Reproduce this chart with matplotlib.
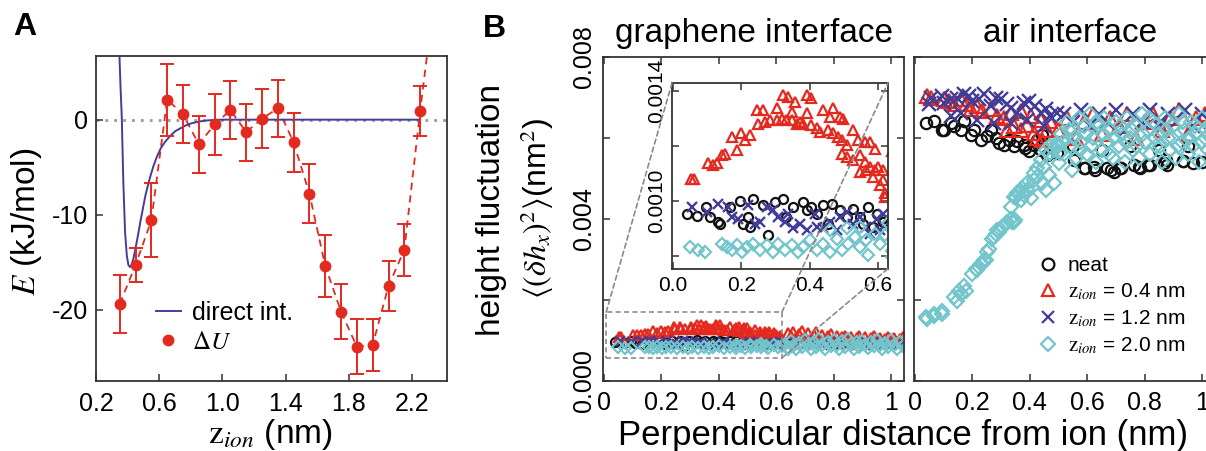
import numpy as np
import matplotlib
matplotlib.use('Agg')
import matplotlib.pyplot as plt
from matplotlib.patches import Rectangle, ConnectionPatch
from matplotlib.lines import Line2D
from matplotlib.ticker import FixedLocator

plt.rcParams['font.family'] = ['Liberation Sans', 'DejaVu Sans']
plt.rcParams['mathtext.fontset'] = 'stix'

RED = '#E4291F'
BLUE = '#433D98'
CYAN = '#73C5CB'
BLACK = '#111111'
SPINE = '#333333'
GRAY = '#8a8a8a'

# ---------------- Panel A data ----------------
du_x = [0.35, 0.45, 0.55, 0.65, 0.75, 0.85, 0.95, 1.05, 1.15, 1.25,
        1.35, 1.45, 1.55, 1.65, 1.75, 1.85, 1.95, 2.05, 2.15, 2.25]
du_y = [-19.4, -15.3, -10.6, 2.1, 0.6, -2.6, -0.5, 1.0, -1.3, 0.1,
        1.2, -2.4, -7.8, -15.4, -20.2, -23.9, -23.7, -17.5, -13.7, 0.9]
du_err = [3.1, 1.75, 3.9, 3.8, 3.05, 3.0, 3.2, 3.05, 3.0, 3.1,
          3.0, 3.07, 3.1, 3.25, 2.9, 2.9, 2.75, 2.6, 2.7, 2.6]
trend_x = du_x + [2.30]
trend_y = du_y + [7.6]

direct_x = [0.348, 0.355, 0.363, 0.373, 0.384, 0.395, 0.405, 0.415, 0.425, 0.437,
            0.448, 0.463, 0.479, 0.495, 0.511, 0.527, 0.543, 0.563, 0.585, 0.61,
            0.638, 0.67, 0.702, 0.735, 0.765, 0.80, 0.83, 0.87, 0.91, 0.96,
            1.0, 1.2, 1.6, 2.0, 2.25]
direct_y = [6.9, 3.5, 0.3, -6.7, -11.9, -14.3, -15.3, -15.5, -15.3, -14.6,
            -13.7, -12.4, -10.9, -9.5, -8.1, -7.0, -6.0, -4.9, -3.9, -3.0,
            -2.3, -1.7, -1.2, -0.9, -0.63, -0.4, -0.28, -0.15, -0.07, -0.02,
            0.0, 0.0, 0.0, 0.0, 0.0]

# ---------------- Panel B data: graphene interface ----------------
gr_neat = [(0.040,0.000952),(0.069,0.000945),(0.096,0.000978),(0.108,0.000942),(0.133,0.000924),
           (0.137,0.000918),(0.167,0.000978),(0.196,0.0010),(0.205,0.000918),(0.225,0.000905),
           (0.220,0.000942),(0.234,0.001008),(0.264,0.000984),(0.279,0.000875),(0.298,0.000997),
           (0.323,0.001008),(0.332,0.000942),(0.352,0.000978),(0.381,0.000996),(0.391,0.000966),
           (0.405,0.000978),(0.420,0.000954),(0.440,0.000984),(0.464,0.00099),(0.454,0.000918),
           (0.488,0.000966),(0.508,0.000942),(0.527,0.000972),(0.547,0.000942),(0.571,0.000978),
           (0.596,0.000954),(0.610,0.000936),(0.557,0.000918),(0.586,0.000905),(0.615,0.000924),
           (0.65,0.00095),(0.68,0.00092),(0.71,0.00097),(0.74,0.00093),(0.77,0.00096),
           (0.80,0.00091),(0.83,0.00095),(0.86,0.00092),(0.89,0.00096),(0.92,0.00093),
           (0.95,0.00095),(0.98,0.00091),(1.01,0.00094),(1.04,0.00092)]
gr_z04 = [(0.052,0.001081),(0.060,0.001081),(0.103,0.001136),(0.116,0.00113),(0.128,0.001136),
          (0.142,0.001166),(0.152,0.001172),(0.172,0.001233),(0.186,0.001184),(0.199,0.001245),
          (0.212,0.00122),(0.225,0.00124),(0.245,0.00133),(0.264,0.00133),(0.249,0.001281),
          (0.269,0.001287),(0.284,0.001293),(0.303,0.001293),(0.303,0.001336),(0.323,0.001384),
          (0.337,0.001378),(0.357,0.00136),(0.347,0.001324),(0.318,0.001299),(0.332,0.001293),
          (0.347,0.001293),(0.362,0.001281),(0.371,0.001287),(0.381,0.001281),(0.391,0.001384),
          (0.405,0.001372),(0.391,0.001318),(0.405,0.001275),(0.420,0.001263),(0.430,0.001251),
          (0.440,0.00133),(0.459,0.001305),(0.469,0.001336),(0.488,0.001305),(0.498,0.001299),
          (0.454,0.001257),(0.469,0.001245),(0.483,0.001233),(0.493,0.00122),(0.508,0.001202),
          (0.527,0.001257),(0.542,0.00122),(0.561,0.001214),(0.576,0.001214),(0.591,0.00119),
          (0.493,0.001172),(0.508,0.00116),(0.527,0.001148),(0.547,0.001166),(0.561,0.001142),
          (0.576,0.001124),(0.591,0.001112),(0.600,0.001124),(0.615,0.001075),(0.620,0.001027),
          (0.547,0.001105),(0.566,0.001112),(0.586,0.001087),(0.605,0.001057),(0.615,0.001112),
          (0.620,0.001014),
          (0.64,0.00118),(0.65,0.00110),(0.66,0.00122),(0.67,0.00105),(0.68,0.00115),
          (0.69,0.00124),(0.70,0.00108),(0.71,0.00118),(0.72,0.00102),(0.73,0.00114),
          (0.74,0.00120),(0.75,0.00106),(0.76,0.00113),(0.77,0.00100),(0.78,0.00110),
          (0.79,0.00115),(0.80,0.00104),(0.81,0.00111),(0.82,0.00098),(0.83,0.00108),
          (0.84,0.00112),(0.85,0.00102),(0.86,0.00109),(0.87,0.00097),(0.88,0.00106),
          (0.89,0.00111),(0.90,0.00101),(0.91,0.00108),(0.92,0.00096),(0.93,0.00105),
          (0.94,0.00110),(0.95,0.00100),(0.96,0.00107),(0.97,0.00097),(0.98,0.00104),
          (0.99,0.00109),(1.00,0.00099),(1.01,0.00106),(1.02,0.00096),(1.03,0.00104),
          (1.04,0.00108)]
gr_z12 = [(0.055,0.000978),(0.099,0.00096),(0.133,0.00099),(0.162,0.000978),(0.172,0.000942),
          (0.191,0.000936),(0.220,0.000984),(0.240,0.000918),(0.254,0.000924),(0.274,0.000978),
          (0.293,0.000966),(0.308,0.000942),(0.327,0.000924),(0.337,0.000954),(0.352,0.0009),
          (0.371,0.000918),(0.391,0.000893),(0.415,0.000954),(0.420,0.000905),(0.440,0.0009),
          (0.459,0.000924),(0.479,0.000893),(0.488,0.000942),(0.508,0.00096),(0.527,0.000918),
          (0.547,0.000942),(0.566,0.000905),(0.596,0.000936),(0.615,0.000954),(0.576,0.000881),
          (0.605,0.000893),
          (0.64,0.00093),(0.67,0.00090),(0.70,0.00095),(0.73,0.00091),(0.76,0.00094),
          (0.79,0.00090),(0.82,0.00093),(0.85,0.00089),(0.88,0.00094),(0.91,0.00090),
          (0.94,0.00093),(0.97,0.00089),(1.00,0.00092),(1.03,0.00090)]
gr_z20 = [(0.050,0.000833),(0.074,0.000821),(0.094,0.000815),(0.142,0.000845),(0.157,0.000833),
          (0.172,0.000821),(0.186,0.00084),(0.201,0.000815),(0.215,0.000833),(0.235,0.000845),
          (0.254,0.000821),(0.274,0.00084),(0.293,0.000815),(0.308,0.000845),(0.327,0.000821),
          (0.347,0.00084),(0.366,0.000815),(0.381,0.000833),(0.401,0.000857),(0.420,0.000821),
          (0.440,0.000845),(0.459,0.000815),(0.479,0.000863),(0.493,0.000821),(0.513,0.000845),
          (0.532,0.00087),(0.547,0.000833),(0.566,0.000857),(0.591,0.000881),(0.605,0.000845),
          (0.620,0.000875),(0.459,0.000893),(0.508,0.0009),(0.547,0.000905),(0.570,0.000803),
          (0.640,0.000797),
          (0.63,0.00092),(0.64,0.00082),(0.65,0.00100),(0.66,0.00087),(0.67,0.00079),
          (0.68,0.00095),(0.69,0.00084),(0.70,0.00102),(0.71,0.00089),(0.72,0.00080),
          (0.73,0.00097),(0.74,0.00085),(0.75,0.00103),(0.76,0.00090),(0.77,0.00079),
          (0.78,0.00096),(0.79,0.00086),(0.80,0.00101),(0.81,0.00088),(0.82,0.00080),
          (0.83,0.00098),(0.84,0.00085),(0.85,0.00103),(0.86,0.00091),(0.87,0.00079),
          (0.88,0.00096),(0.89,0.00084),(0.90,0.00100),(0.91,0.00088),(0.92,0.00081),
          (0.93,0.00097),(0.94,0.00086),(0.95,0.00102),(0.96,0.00090),(0.97,0.00080),
          (0.98,0.00095),(0.99,0.00085),(1.00,0.00101),(1.01,0.00089),(1.02,0.00079),
          (1.03,0.00096),(1.04,0.00087)]

# ---------------- Panel B data: air interface ----------------
air_neat = [(0.038,0.006373),(0.067,0.006414),(0.096,0.006207),(0.102,0.006207),(0.125,0.006373),
            (0.137,0.00629),(0.160,0.006207),(0.171,0.006414),(0.194,0.006083),(0.206,0.006207),
            (0.229,0.005959),(0.252,0.006041),(0.264,0.006207),(0.281,0.006),(0.293,0.005876),
            (0.310,0.005834),(0.328,0.005959),(0.345,0.005793),(0.356,0.005917),(0.380,0.005834),
            (0.397,0.005669),(0.385,0.005752),(0.414,0.005834),(0.426,0.005959),(0.443,0.006083),
            (0.438,0.00571),(0.461,0.005586),(0.495,0.005627),(0.553,0.005462),(0.588,0.005255),
            (0.623,0.005296),(0.669,0.005255),(0.692,0.005172),(0.715,0.005255),(0.762,0.005337),
            (0.785,0.005255),(0.819,0.005337),(0.866,0.005379),(0.877,0.005337),(0.935,0.00542),
            (0.970,0.005379),(0.591,0.005255),(0.626,0.005213),(0.684,0.005213),(0.719,0.005255),
            (0.782,0.005296),(0.812,0.005337),(0.875,0.005462),(0.933,0.00542),(1.00,0.00540),
            (1.03,0.00545),(0.55,0.0058),(0.65,0.0057),(0.75,0.0058),(0.85,0.0057),(0.95,0.0058)]
air_z04 = [(0.044,0.007035),(0.056,0.006994),(0.102,0.006952),(0.119,0.006911),(0.137,0.006828),
           (0.160,0.006952),(0.177,0.006828),(0.194,0.006704),(0.218,0.006787),(0.235,0.006663),
           (0.264,0.006704),(0.287,0.006538),(0.310,0.006497),(0.322,0.006207),(0.345,0.00629),
           (0.368,0.006207),(0.391,0.006331),(0.414,0.006124),(0.426,0.006),(0.443,0.005959),
           (0.461,0.006207),(0.333,0.006621),(0.368,0.006663),(0.403,0.006538),(0.438,0.006455),
           (0.472,0.006414),
           (0.50,0.0062),(0.53,0.0065),(0.56,0.0060),(0.59,0.0064),(0.62,0.0066),(0.65,0.0061),
           (0.68,0.0065),(0.71,0.0063),(0.74,0.0066),(0.77,0.0060),(0.80,0.0064),(0.83,0.0066),
           (0.86,0.0062),(0.89,0.0065),(0.92,0.0067),(0.95,0.0061),(0.98,0.0065),(1.01,0.0066),
           (1.04,0.0063)]
air_z12 = [(0.050,0.006828),(0.056,0.006994),(0.096,0.007035),(0.102,0.00687),(0.125,0.006952),
           (0.148,0.006994),(0.171,0.007077),(0.189,0.007035),(0.200,0.006911),(0.223,0.006952),
           (0.241,0.007077),(0.264,0.006787),(0.281,0.006994),(0.299,0.006952),(0.322,0.006828),
           (0.333,0.006745),(0.356,0.006621),(0.380,0.00687),(0.397,0.006911),(0.420,0.006787),
           (0.438,0.006621),(0.455,0.006704),(0.472,0.006538),(0.495,0.006621),(0.125,0.006538),
           (0.160,0.006621),(0.218,0.006455),(0.275,0.006373),(0.333,0.006373),(0.391,0.006455),
           (0.449,0.00629),
           (0.52,0.0066),(0.55,0.0064),(0.58,0.0067),(0.61,0.0063),(0.64,0.0066),(0.67,0.0064),
           (0.70,0.0067),(0.73,0.0062),(0.76,0.0066),(0.79,0.0064),(0.82,0.0067),(0.85,0.0063),
           (0.88,0.0066),(0.91,0.0064),(0.94,0.0067),(0.97,0.0063),(1.00,0.0066),(1.03,0.0064)]
air_z20 = [(0.038,0.001569),(0.044,0.001528),(0.067,0.00161),(0.067,0.001652),(0.096,0.001652),
           (0.096,0.001735),(0.137,0.002066),(0.148,0.001983),(0.154,0.002232),(0.160,0.002149),
           (0.171,0.002356),(0.177,0.002232),(0.200,0.002646),(0.212,0.00277),(0.218,0.002729),
           (0.229,0.002894),(0.235,0.002894),(0.241,0.002977),(0.247,0.002977),(0.252,0.003184),
           (0.258,0.003267),(0.270,0.003516),(0.275,0.003557),(0.281,0.00364),(0.287,0.003723),
           (0.293,0.003681),(0.304,0.003805),(0.316,0.003888),(0.322,0.00393),(0.333,0.004012),
           (0.339,0.00393),(0.345,0.00393),(0.350,0.00397),(0.333,0.004302),(0.345,0.004551),
           (0.351,0.004551),(0.356,0.004633),(0.362,0.004675),(0.368,0.004468),(0.374,0.004758),
           (0.380,0.004592),(0.391,0.004716),(0.391,0.004882),(0.403,0.004509),(0.409,0.004799),
           (0.414,0.004965),(0.414,0.00513),(0.426,0.005048),(0.426,0.005255),(0.438,0.005462),
           (0.443,0.004882),(0.449,0.005296),(0.455,0.004716),(0.455,0.00571),(0.466,0.005089),
           (0.472,0.005627),(0.472,0.005793),(0.484,0.004882),(0.484,0.00571),(0.495,0.005793),
           (0.495,0.005876),(0.501,0.005379),(0.507,0.005627),(0.547,0.005213),
           (0.51,0.0061),(0.52,0.0056),(0.53,0.0064),(0.54,0.0058),(0.55,0.0062),(0.56,0.0055),
           (0.57,0.0065),(0.58,0.0059),(0.59,0.0063),(0.60,0.0056),(0.61,0.0066),(0.62,0.0060),
           (0.63,0.0054),(0.64,0.0063),(0.65,0.0057),(0.66,0.0065),(0.67,0.0059),(0.68,0.0062),
           (0.69,0.0055),(0.70,0.0064),(0.71,0.0058),(0.72,0.0061),(0.73,0.0054),(0.74,0.0065),
           (0.75,0.0060),(0.76,0.0057),(0.77,0.0063),(0.78,0.0055),(0.79,0.0066),(0.80,0.0059),
           (0.81,0.0062),(0.82,0.0056),(0.83,0.0064),(0.84,0.0058),(0.85,0.0061),(0.86,0.0054),
           (0.87,0.0065),(0.88,0.0060),(0.89,0.0057),(0.90,0.0063),(0.91,0.0055),(0.92,0.0066),
           (0.93,0.0059),(0.94,0.0062),(0.95,0.0056),(0.96,0.0064),(0.97,0.0058),(0.98,0.0061),
           (0.99,0.0054),(1.00,0.0065),(1.01,0.0060),(1.02,0.0057),(1.03,0.0063),(1.04,0.0059),
           (0.515,0.0059),(0.535,0.0062),(0.555,0.0060),(0.575,0.0057),(0.595,0.0061),(0.615,0.0058),
           (0.635,0.0064),(0.655,0.0061),(0.675,0.0056),(0.695,0.0060),(0.715,0.0063),(0.735,0.0059),
           (0.755,0.0062),(0.775,0.0058),(0.795,0.0061),(0.815,0.0065),(0.835,0.0060),(0.855,0.0058),
           (0.875,0.0062),(0.895,0.0060),(0.915,0.0058),(0.935,0.0064),(0.955,0.0060),(0.975,0.0063),
           (0.995,0.0059),(1.015,0.0062),(1.035,0.0056)]

series_labels = ['neat', r'$\mathrm{z}_{ion}$ = 0.4 nm', r'$\mathrm{z}_{ion}$ = 1.2 nm',
                 r'$\mathrm{z}_{ion}$ = 2.0 nm']
series_styles = [dict(marker='o', color=BLACK), dict(marker='^', color=RED),
                 dict(marker='x', color=BLUE), dict(marker='D', color=CYAN)]

W, H = 1206, 451
fig = plt.figure(figsize=(W / 100, H / 100), dpi=100)


def px_axes(l, t, r, b):
    return fig.add_axes([l / W, 1 - b / H, (r - l) / W, (b - t) / H])


def style_axes(ax, fs, allsides=False):
    for s in ax.spines.values():
        s.set_color(SPINE)
        s.set_linewidth(1.3)
    ax.tick_params(which='both', direction='in', width=1.1, color=SPINE,
                   labelsize=fs, top=allsides, right=allsides)
    ax.tick_params(which='major', length=5)
    ax.tick_params(which='minor', length=5)


# ---------------- Panel A ----------------
axA = px_axes(96, 56, 447, 381)
style_axes(axA, 18)
axA.set_xlim(0.2, 2.42)
axA.set_ylim(-27.5, 6.7)
axA.axhline(0, color='#9a9a9a', lw=2.0, ls=(0, (1, 2.2)), zorder=1)
axA.plot(direct_x, direct_y, color=BLUE, lw=1.4, zorder=3)
axA.plot(trend_x, trend_y, color=RED, lw=1.3, ls=(0, (4, 3)), zorder=2)
axA.errorbar(du_x, du_y, yerr=du_err, fmt='o', color=RED, ms=7.5,
             capsize=5, elinewidth=1.4, capthick=1.4, zorder=4)
axA.set_xticks([0.2, 0.6, 1.0, 1.4, 1.8, 2.2])
axA.set_xticklabels(['0.2', '0.6', '1.0', '1.4', '1.8', '2.2'])
axA.set_yticks([-20, -10, 0])
axA.set_yticklabels(['-20', '-10', '0'])
axA.tick_params(axis='x', pad=8)
axA.tick_params(axis='y', pad=6)
hA = [Line2D([], [], color=BLUE, lw=1.4),
      Line2D([], [], color=RED, marker='o', ls='none', ms=7.5)]
axA.legend(hA, ['direct int.', r'$\Delta U$'], loc='center left',
           bbox_to_anchor=(0.17, 0.165), frameon=False, fontsize=18,
           handlelength=1.0, handletextpad=0.45, labelspacing=0.2,
           borderpad=0, borderaxespad=0)
fig.text(26 / W, 1 - 222 / H, r'$E$ (kJ/mol)', rotation=90, ha='center',
         va='center', fontsize=24)
fig.text(270 / W, 1 - 434 / H, r'$\mathrm{z}_{ion}$ (nm)', ha='center',
         va='center', fontsize=24)
fig.text(25 / W, 1 - 27 / H, 'A', fontsize=23, fontweight='bold',
         ha='center', va='center')
fig.text(494 / W, 1 - 29 / H, 'B', fontsize=23, fontweight='bold',
         ha='center', va='center')

# ---------------- Panel B ----------------
def draw_series(ax, data_list, ms_scale=1.0):
    for data, st in zip(data_list, series_styles):
        xs = [p[0] for p in data]
        ys = [p[1] for p in data]
        m = st['marker']
        ms = {'o': 6.5, '^': 7.5, 'x': 7.5, 'D': 6.0}[m] * ms_scale
        if m == 'x':
            ax.plot(xs, ys, ls='none', marker='x', color=st['color'], ms=ms, mew=1.7)
        else:
            ax.plot(xs, ys, ls='none', marker=m, mfc='none', mec=st['color'],
                    ms=ms, mew=1.6)


def style_b(ax, show_y):
    style_axes(ax, 18, allsides=True)
    ax.set_xlim(-0.003, 1.045)
    ax.set_ylim(0, 0.008)
    ax.set_xticks([0, 0.2, 0.4, 0.6, 0.8, 1.0])
    ax.set_xticklabels(['0', '0.2', '0.4', '0.6', '0.8', '1'])
    ax.set_yticks([0, 0.004, 0.008])
    ax.yaxis.set_minor_locator(FixedLocator([0.002, 0.006]))
    if show_y:
        ax.set_yticklabels(['0.000', '0.004', '0.008'], rotation=90, va='center')
    else:
        ax.set_yticklabels([])
    ax.tick_params(axis='x', pad=7)
    ax.tick_params(axis='y', pad=5)


axG = px_axes(603, 57, 904, 381)
style_b(axG, True)
draw_series(axG, [gr_neat, gr_z04, gr_z12, gr_z20])
axG.add_patch(Rectangle((0.008, 0.00057), 0.612, 0.00113, fill=False,
                        ec=GRAY, lw=1.2, ls=(0, (3, 2)), zorder=5))

axR = px_axes(914, 57, 1215, 381)
style_b(axR, False)
draw_series(axR, [air_neat, air_z04, air_z12, air_z20], ms_scale=1.25)

hB = []
for st in series_styles:
    if st['marker'] == 'x':
        hB.append(Line2D([], [], ls='none', marker='x', color=st['color'], ms=8.5, mew=1.6))
    else:
        hB.append(Line2D([], [], ls='none', marker=st['marker'], mfc='none',
                         mec=st['color'], ms=8.5 if st['marker'] != 'D' else 7, mew=1.6))
axR.legend(hB, series_labels, loc='center left', bbox_to_anchor=(0.41, 0.232),
           frameon=False, fontsize=15, handlelength=1.0, handletextpad=0.45,
           labelspacing=0.3, borderpad=0, borderaxespad=0)

# inset
axI = px_axes(672, 83, 888, 268.7)
style_axes(axI, 15, allsides=True)
axI.set_xlim(-0.003, 0.629)
axI.set_ylim(0.000754, 0.001428)
axI.set_xticks([0, 0.2, 0.4, 0.6])
axI.set_xticklabels(['0.0', '0.2', '0.4', '0.6'])
axI.set_yticks([0.0010, 0.0014])
axI.set_yticklabels(['0.0010', '0.0014'], rotation=90, va='center')
axI.yaxis.set_minor_locator(FixedLocator([0.0008, 0.0012]))
axI.tick_params(axis='x', pad=5)
axI.tick_params(axis='y', pad=4)
draw_series(axI, [gr_neat, gr_z04, gr_z12, gr_z20])

for xa, ya, xb, yb in [(0.008, 0.0017, 0, 1), (0.62, 0.0017, 1, 1), (0.62, 0.00057, 1, 0)]:
    con = ConnectionPatch(xyA=(xa, ya), coordsA=axG.transData,
                          xyB=(xb, yb), coordsB=axI.transAxes,
                          color=GRAY, lw=1.2, ls=(0, (3, 2)))
    con.set_zorder(5)
    fig.add_artist(con)

fig.text(754 / W, 1 - 42 / H, 'graphene interface', ha='center', va='baseline', fontsize=24)
fig.text(1070 / W, 1 - 42 / H, 'air interface', ha='center', va='baseline', fontsize=24)
fig.text(491.7 / W, 1 - 210 / H, 'height fluctuation', rotation=90, ha='center',
         va='center', fontsize=24)
fig.text(537 / W, 1 - 208 / H, r'$\langle(\delta h_x)^2\rangle$(nm$^2$)', rotation=90,
         ha='center', va='center', fontsize=23)
fig.text(903.5 / W, 1 - 435 / H, 'Perpendicular distance from ion (nm)', ha='center',
         va='center', fontsize=25)

fig.savefig('out.png', dpi=100)
